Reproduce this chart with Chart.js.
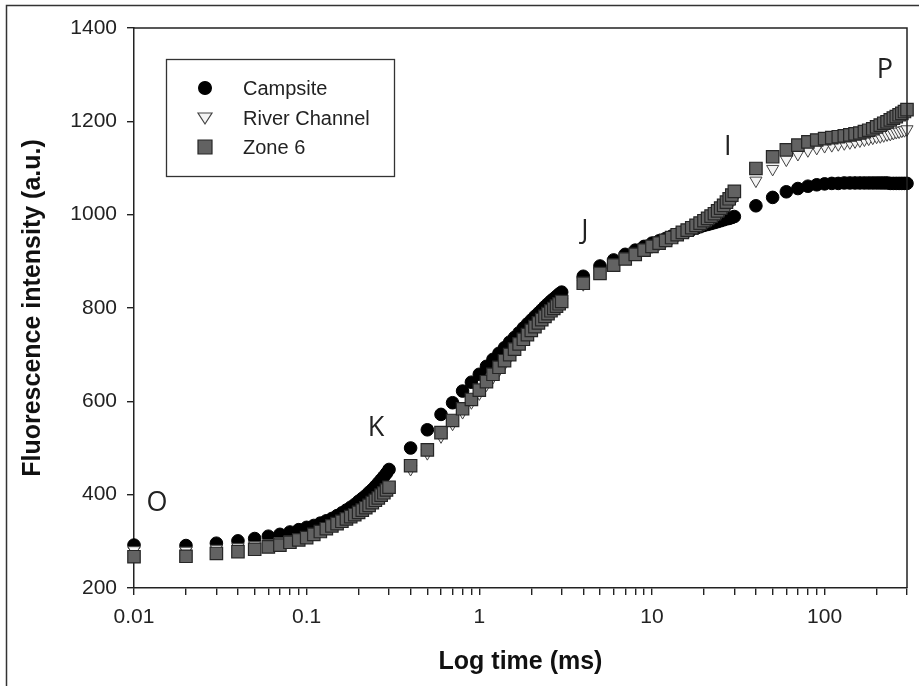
<!DOCTYPE html>
<html>
<head>
<meta charset="utf-8">
<script src="https://cdn.jsdelivr.net/npm/chart.js@4.4.1/dist/chart.umd.min.js"></script>
<style>
  html, body { margin: 0; padding: 0; background: #fff; }
  #wrap { position: relative; width: 919px; height: 686px; }
</style>
</head>
<body>
<div id="wrap"><canvas id="c" width="919" height="686"></canvas></div>
<script>
// ---- data ----
const times = [0.01,0.02,0.03,0.04,0.05,0.06,0.07,0.08,0.09,0.1,0.11,0.12,0.13,0.14,0.15,0.16,0.17,0.18,0.19,0.2,0.21,0.22,0.23,0.24,0.25,0.26,0.27,0.28,0.29,0.3,
  0.4,0.5,0.6,0.7,0.8,0.9,1,1.1,1.2,1.3,1.4,1.5,1.6,1.7,1.8,1.9,2,2.1,2.2,2.3,2.4,2.5,2.6,2.7,2.8,2.9,3,
  4,5,6,7,8,9,10,11,12,13,14,15,16,17,18,19,20,21,22,23,24,25,26,27,28,29,30,
  40,50,60,70,80,90,100,110,120,130,140,150,160,170,180,190,200,210,220,230,240,250,260,270,280,290,300];

const campsite = [292,291,296,301,306,311,315,320,325,330,334,339,344,349,355,361,367,373,379,386,392,398,405,411,418,425,432,439,446,454,
  500,539,572,597,622,641,658,675,690,703,715,727,737,747,757,766,774,782,789,796,803,809,815,820,825,830,834,
  868,890,903,915,924,932,939,944,949,954,958,962,965,968,971,974,977,979,981,983,985,987,989,991,992,994,996,
  1019,1037,1049,1056,1061,1064,1066,1067,1067,1068,1068,1068,1068,1068,1068,1068,1068,1068,1068,1068,1067,1067,1067,1067,1067,1067,1067];

const riverChannel = [281,280,284,288,292,296,300,304,309,313,318,323,328,333,338,343,348,352,357,361,366,371,376,381,386,391,396,401,406,411,
  455,489,525,552,577,598,617,636,652,667,681,695,707,718,729,739,748,757,765,772,779,786,792,797,803,808,813,
  851,878,894,910,918,926,932,938,944,949,954,959,963,968,972,977,981,986,990,995,1000,1005,1010,1016,1022,1028,1035,
  1073,1098,1118,1130,1138,1143,1147,1149,1151,1153,1155,1157,1159,1161,1163,1165,1167,1168,1170,1172,1173,1175,1177,1178,1180,1181,1183];

const zone6 = [267,268,274,278,283,288,292,298,303,308,315,321,327,333,338,343,348,353,357,362,367,372,377,383,388,393,399,404,410,416,
  462,496,533,559,584,604,624,642,658,673,687,700,712,723,733,743,752,760,768,775,782,788,794,799,804,809,814,
  853,874,892,905,915,924,932,939,945,951,957,962,967,972,977,982,987,992,997,1002,1008,1014,1020,1027,1034,1042,1050,
  1099,1124,1139,1149,1156,1160,1163,1165,1167,1169,1171,1173,1175,1178,1181,1184,1188,1192,1196,1199,1203,1207,1210,1214,1217,1221,1225];

const seriesNames = ['Campsite', 'River Channel', 'Zone 6'];

const xTickValues = [0.01,0.02,0.03,0.04,0.05,0.06,0.07,0.08,0.09,
  0.1,0.2,0.3,0.4,0.5,0.6,0.7,0.8,0.9,
  1,2,3,4,5,6,7,8,9,
  10,20,30,40,50,60,70,80,90,
  100,200,300];
const xMajorValues = [0.01, 0.1, 1, 10, 100];
const xMajorLabels = ['0.01', '0.1', '1', '10', '100'];
const yTickLabels = ['200', '400', '600', '800', '1000', '1200', '1400'];

const phaseLabels = ['O', 'K', 'J', 'I', 'P'];
const phaseX = [0.0136, 0.252, 4.09, 27.5, 223];
const phaseY = [382, 543, 965, 1145, 1310];

// ---- chart ----
const FONT = '"Liberation Sans", Arial, sans-serif';
Chart.defaults.font.family = FONT;
Chart.defaults.color = '#222';

function pts(vals) { return times.map((t, i) => ({ x: t, y: vals[i] })); }

const styles = [
  { pointStyle: 'circle', pointRadius: 6.3, backgroundColor: '#000', borderColor: '#000', borderWidth: 1, rotation: 0, order: 3 },
  { pointStyle: 'triangle', pointRadius: 7, backgroundColor: '#f4f4f4', borderColor: '#444', borderWidth: 1, rotation: 180, order: 2 },
  { pointStyle: 'rect', pointRadius: 8.8, backgroundColor: '#626262', borderColor: '#262626', borderWidth: 1.2, rotation: 0, order: 1 }
];
const seriesVals = [campsite, riverChannel, zone6];

const datasets = seriesVals.map((v, i) => ({
  label: seriesNames[i],
  data: pts(v),
  showLine: false,
  pointStyle: styles[i].pointStyle,
  pointRadius: styles[i].pointRadius,
  pointHoverRadius: styles[i].pointRadius,
  pointRotation: styles[i].rotation,
  pointBackgroundColor: styles[i].backgroundColor,
  pointBorderColor: styles[i].borderColor,
  pointBorderWidth: styles[i].borderWidth,
  order: styles[i].order,
  clip: false
}));

function drawMarker(ctx, kind, x, y) {
  const s = styles[kind];
  ctx.save();
  ctx.fillStyle = s.backgroundColor;
  ctx.strokeStyle = s.borderColor;
  ctx.lineWidth = 1.2;
  ctx.beginPath();
  if (kind === 0) {
    ctx.arc(x, y, 6.4, 0, Math.PI * 2);
  } else if (kind === 1) {
    ctx.moveTo(x - 7, y - 5);
    ctx.lineTo(x + 7, y - 5);
    ctx.lineTo(x, y + 6);
    ctx.closePath();
  } else {
    ctx.rect(x - 7, y - 7, 14, 14);
  }
  ctx.fill();
  ctx.stroke();
  ctx.restore();
}

const decorPlugin = {
  id: 'decor',
  afterDraw(chart) {
    const { ctx, chartArea: a, scales } = chart;
    ctx.save();
    // outer image frame (left and top)
    ctx.strokeStyle = '#333';
    ctx.lineWidth = 1.5;
    ctx.beginPath();
    ctx.moveTo(6.5, 686);
    ctx.lineTo(6.5, 5.5);
    ctx.lineTo(919, 5.5);
    ctx.stroke();
    // plot box top and right
    ctx.strokeStyle = '#222';
    ctx.lineWidth = 1.5;
    ctx.beginPath();
    ctx.moveTo(a.left, a.top);
    ctx.lineTo(a.right, a.top);
    ctx.lineTo(a.right, a.bottom);
    ctx.stroke();
    // legend box
    ctx.strokeStyle = '#333';
    ctx.lineWidth = 1.3;
    ctx.strokeRect(166.5, 59.5, 228, 117);
    const rowsY = [88, 118, 147];
    ctx.font = '20px ' + FONT;
    ctx.fillStyle = '#222';
    ctx.textBaseline = 'middle';
    ctx.textAlign = 'left';
    for (let i = 0; i < 3; i++) {
      drawMarker(ctx, i, 205, rowsY[i]);
      ctx.fillText(seriesNames[i], 243, rowsY[i] + 1);
    }
    // phase labels O K J I P
    ctx.font = '27px "Open Sans", "Liberation Sans", sans-serif';
    ctx.fillStyle = '#222';
    ctx.textAlign = 'center';
    ctx.textBaseline = 'middle';
    for (let i = 0; i < phaseLabels.length; i++) {
      const px = scales.x.getPixelForValue(phaseX[i]);
      const py = scales.y.getPixelForValue(phaseY[i]);
      ctx.fillText(phaseLabels[i], px, py);
    }
    ctx.restore();
  }
};

new Chart(document.getElementById('c'), {
  type: 'scatter',
  data: { datasets },
  options: {
    responsive: false,
    animation: false,
    devicePixelRatio: 1,
    layout: { padding: { left: 0, top: 28, right: 12, bottom: 0 } },
    plugins: { legend: { display: false }, tooltip: { enabled: false } },
    scales: {
      x: {
        type: 'logarithmic',
        min: 0.01,
        max: 300,
        afterBuildTicks(scale) { scale.ticks = xTickValues.map(v => ({ value: v })); },
        afterFit(scale) { scale.height = 98; },
        ticks: {
          autoSkip: false,
          maxRotation: 0,
          padding: 10,
          color: '#222',
          font: { size: 21 },
          callback(v) {
            for (let i = 0; i < xMajorValues.length; i++) {
              if (Math.abs(v - xMajorValues[i]) < 1e-9 * Math.max(1, v)) return xMajorLabels[i];
            }
            return '';
          }
        },
        grid: { display: true, drawOnChartArea: false, drawTicks: true, tickLength: 7, color: '#222', lineWidth: 1.4 },
        border: { display: true, color: '#222', width: 1.5 },
        title: { display: true, text: 'Log time (ms)', color: '#111', font: { size: 25, weight: 'bold' }, padding: { top: 0, bottom: 9 } }
      },
      y: {
        min: 200,
        max: 1400,
        afterFit(scale) { scale.width = 134; },
        ticks: {
          stepSize: 200, padding: 10, color: '#222', font: { size: 21 },
          callback(v) {
            const i = Math.round((v - 200) / 200);
            return yTickLabels[i] !== undefined ? yTickLabels[i] : '';
          }
        },
        grid: { display: true, drawOnChartArea: false, drawTicks: true, tickLength: 7, color: '#222', lineWidth: 1.4 },
        border: { display: true, color: '#222', width: 1.5 },
        title: { display: true, text: 'Fluorescence intensity (a.u.)', color: '#111', font: { size: 25, weight: 'bold' }, padding: { top: 18, bottom: 0 } }
      }
    }
  },
  plugins: [decorPlugin]
});
</script>
</body>
</html>
